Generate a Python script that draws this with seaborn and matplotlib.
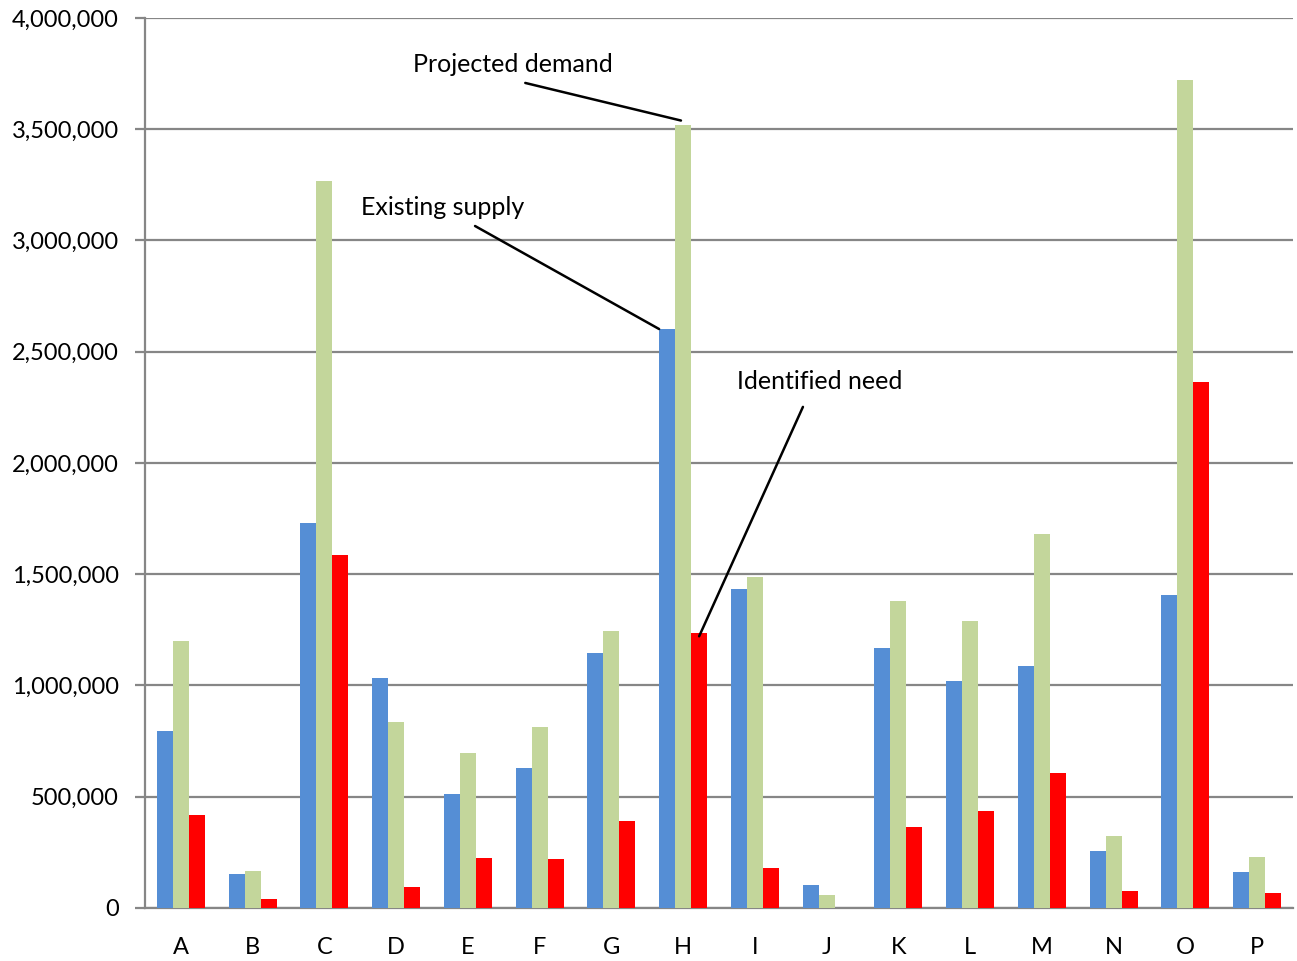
import matplotlib
matplotlib.use("Agg")
import matplotlib.pyplot as plt
import matplotlib.ticker as mticker
import seaborn as sns
import pandas as pd

# Categories and series values
categories = list("ABCDEFGHIJKLMNOP")
existing_supply = [795000, 153000, 1730000, 1034000, 512000, 629000, 1146000, 2602000,
                   1434000, 103000, 1169000, 1020000, 1088000, 256000, 1407000, 162000]
projected_demand = [1200000, 166000, 3267000, 836000, 697000, 813000, 1245000, 3519000,
                    1488000, 58000, 1380000, 1290000, 1681000, 324000, 3721000, 229000]
identified_need = [418000, 40000, 1586000, 94000, 225000, 220000, 391000, 1236000,
                   180000, 0, 364000, 436000, 607000, 76000, 2364000, 67000]
series_names = ["Existing supply", "Projected demand", "Identified need"]
y_ticks = [0, 500000, 1000000, 1500000, 2000000, 2500000, 3000000, 3500000, 4000000]

df = pd.DataFrame({
    "category": categories * 3,
    "series": [series_names[0]] * 16 + [series_names[1]] * 16 + [series_names[2]] * 16,
    "value": existing_supply + projected_demand + identified_need,
})

sns.set_theme(style="white")
plt.rcParams["font.family"] = ["Lato", "DejaVu Sans"]

fig = plt.figure(figsize=(12.97, 9.61), dpi=100)
ax = fig.add_axes([0.1118, 0.0552, 0.9969 - 0.1118, 0.9813 - 0.0552])

palette = {"Existing supply": "#558ED5", "Projected demand": "#C3D69B", "Identified need": "#FF0000"}
sns.barplot(data=df, x="category", y="value", hue="series", hue_order=series_names,
            palette=palette, width=0.67, gap=0, saturation=1, errorbar=None,
            legend=False, ax=ax, zorder=3, linewidth=0, edgecolor="none")

grid_color = "#868686"
fs = 17
ax.set_ylim(0, 4000000)
ax.set_xlim(-0.5, len(categories) - 0.5)
ax.set_yticks(y_ticks)
ax.yaxis.set_major_formatter(mticker.FuncFormatter(lambda v, p: f"{int(v):,}"))
ax.yaxis.grid(True, color=grid_color, linewidth=1.6, zorder=0)
ax.set_axisbelow(True)
for side in ["top", "right"]:
    ax.spines[side].set_visible(False)
for side in ["left", "bottom"]:
    ax.spines[side].set_color(grid_color)
    ax.spines[side].set_linewidth(1.6)
ax.tick_params(axis="y", which="major", length=7, width=1.6, color=grid_color,
               labelsize=fs, labelcolor="black", pad=12, left=True)
ax.tick_params(axis="x", length=0, labelsize=fs, labelcolor="black", pad=21)
ax.set_xlabel("")
ax.set_ylabel("")

# Leader-line labels pointing at the H group
h = categories.index("H")
bar_w = 0.67 / 3
label_style = dict(fontsize=18, color="black", ha="center", va="center")
line_style = dict(arrowstyle="-", color="black", linewidth=1.8, shrinkA=0, shrinkB=0)

ax.text(4.63, 3790000, "Projected demand", **label_style)
ax.annotate("", xy=(h - 0.03, projected_demand[h] + 20000), xytext=(4.80, 3708000),
            arrowprops=line_style)

ax.text(3.65, 3150000, "Existing supply", **label_style)
ax.annotate("", xy=(h - 1.5 * bar_w, existing_supply[h]), xytext=(4.10, 3065000),
            arrowprops=line_style)

ax.text(8.91, 2368000, "Identified need", **label_style)
ax.annotate("", xy=(h + bar_w, identified_need[h] - 15000), xytext=(8.67, 2252000),
            arrowprops=line_style)

fig.savefig("out.png", dpi=100)
